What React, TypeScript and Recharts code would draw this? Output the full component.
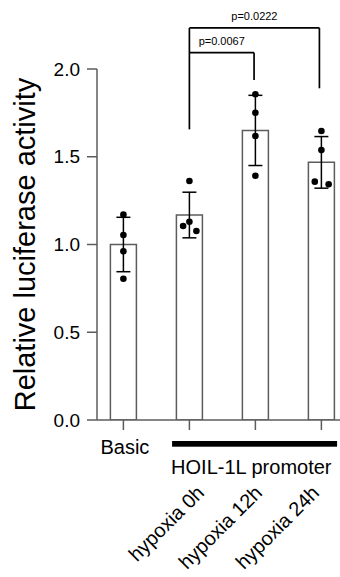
import React from 'react';
import {
  ComposedChart,
  Bar,
  ErrorBar,
  Scatter,
  XAxis,
  YAxis,
  ReferenceLine,
} from 'recharts';

// group names, bar means, SD and the single replicates
const groups = ['Basic', 'hypoxia 0h', 'hypoxia 12h', 'hypoxia 24h'];
const means = [1.0, 1.168, 1.65, 1.468];
const sds = [0.155, 0.13, 0.2, 0.147];
const replicates = [
  [1.17, 1.054, 0.961, 0.805],
  [1.362, 1.13, 1.105, 1.077],
  [1.856, 1.751, 1.618, 1.392],
  [1.647, 1.538, 1.358, 1.343],
];
// horizontal spread of the dots, in group units
const jitter = [
  [0, 0, 0, 0],
  [0, 0, -0.095, 0.106],
  [0, 0, 0, 0],
  [0, 0, -0.1, 0.11],
];
const yTicks = [0, 0.5, 1, 1.5, 2];
const groupLabel = 'HOIL-1L promoter';

// significance brackets, all starting at "hypoxia 0h"
const pValues = ['p=0.0067', 'p=0.0222'];
const bracketTo = [1.98, 2.97];
const bracketTop = [2.093, 2.234];
const bracketFoot = [1.937, 1.89];
const leftFoot = 1.656;

const AXIS = '#5c5c5c';
const FONT = 'Arial, "Liberation Sans", sans-serif';
const X_DOMAIN: [number, number] = [-0.4, 3.282];
const labelShift = [0, 16, 8, -1];

const chartData = groups.map((g, i) => ({ x: i, name: g, mean: means[i], sd: sds[i] }));
const dots = replicates.flatMap((vals, i) =>
  vals.map((v, j) => ({ x: i + jitter[i][j], y: v }))
);

const GroupTick = ({ x, y, payload }: any) => {
  const i = payload.value;
  if (i === 0) {
    return (
      <text x={x + 1.5} y={y + 24} textAnchor="middle" fontSize={20} fontFamily={FONT} fill="#000">
        {groups[0]}
      </text>
    );
  }
  const ax = x + labelShift[i];
  const ay = y + 64;
  return (
    <g>
      {i === 1 && (
        <g>
          <rect x={x - 17.3} y={y + 11} width={165} height={5.7} fill="#000" />
          <text x={x - 18.3} y={y + 44} fontSize={20} fontFamily={FONT} fill="#000">
            {groupLabel}
          </text>
        </g>
      )}
      <text
        x={ax}
        y={ay}
        textAnchor="end"
        transform={`rotate(-45 ${ax} ${ay})`}
        fontSize={20}
        fontFamily={FONT}
        fill="#000"
      >
        {groups[i]}
      </text>
    </g>
  );
};

const Dot = (props: any) => <circle cx={props.cx} cy={props.cy} r={3.3} fill="#000" />;

const bracketStyle = { stroke: '#000', strokeWidth: 1.7, ifOverflow: 'visible' as const };

export default function App() {
  return (
    <div style={{ position: 'absolute', left: 0, top: 0, background: '#fff' }}>
      <ComposedChart
        width={340}
        height={577}
        data={chartData}
        margin={{ top: 69, right: 0, bottom: 0, left: 0 }}
      >
        <XAxis
          type="number"
          dataKey="x"
          domain={X_DOMAIN}
          allowDataOverflow
          ticks={[0, 1, 2, 3]}
          height={157}
          tickSize={10}
          tickMargin={0}
          interval={0}
          axisLine={{ stroke: AXIS, strokeWidth: 1.5 }}
          tickLine={{ stroke: AXIS, strokeWidth: 1.5 }}
          tick={<GroupTick />}
        />
        <XAxis xAxisId="dots" type="number" dataKey="x" domain={X_DOMAIN} allowDataOverflow hide />
        <YAxis
          type="number"
          domain={[0, 2]}
          allowDataOverflow
          ticks={yTicks}
          tickFormatter={(v: number) => v.toFixed(1)}
          width={97}
          tickSize={10}
          tickMargin={7}
          axisLine={{ stroke: AXIS, strokeWidth: 1.5 }}
          tickLine={{ stroke: AXIS, strokeWidth: 1.5 }}
          tick={{ fontSize: 19, fill: '#000', fontFamily: FONT }}
          label={{
            value: 'Relative luciferase activity',
            angle: -90,
            position: 'insideLeft',
            offset: 25,
            style: { textAnchor: 'middle', fontSize: 29, fill: '#000', fontFamily: FONT },
          }}
        />
        <Bar
          dataKey="mean"
          barSize={26}
          fill="#fff"
          stroke={AXIS}
          strokeWidth={1.5}
          isAnimationActive={false}
        >
          <ErrorBar dataKey="sd" width={7} stroke="#000" strokeWidth={1.5} direction="y" />
        </Bar>
        <Scatter
          xAxisId="dots"
          data={dots}
          dataKey="y"
          shape={<Dot />}
          isAnimationActive={false}
        />
        <ReferenceLine
          segment={[{ x: 1, y: leftFoot }, { x: 1, y: bracketTop[1] }]}
          {...bracketStyle}
        />
        {pValues.map((p, k) => (
          <ReferenceLine
            key={'h' + k}
            segment={[{ x: 1, y: bracketTop[k] }, { x: bracketTo[k], y: bracketTop[k] }]}
            {...bracketStyle}
            label={{ value: p, position: 'top', offset: 8, fontSize: 11, fill: '#000', fontFamily: FONT }}
          />
        ))}
        {pValues.map((p, k) => (
          <ReferenceLine
            key={'v' + k}
            segment={[{ x: bracketTo[k], y: bracketTop[k] }, { x: bracketTo[k], y: bracketFoot[k] }]}
            {...bracketStyle}
          />
        ))}
      </ComposedChart>
    </div>
  );
}
